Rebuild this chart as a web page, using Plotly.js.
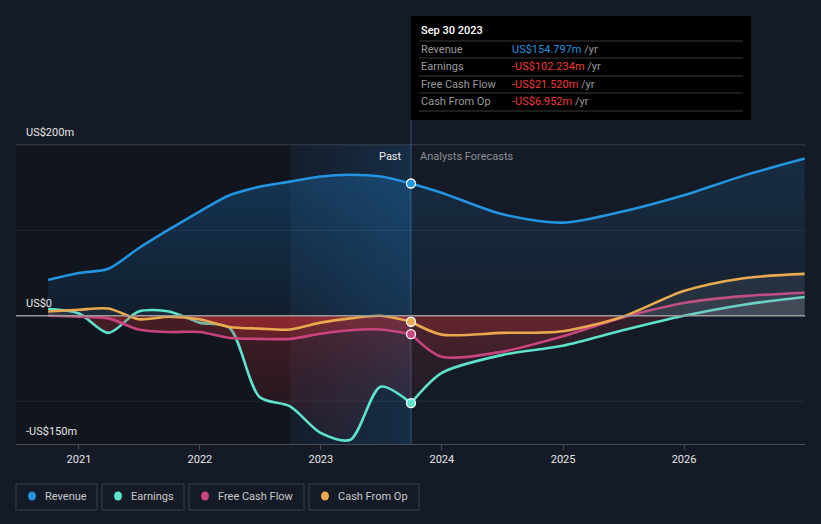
<!DOCTYPE html>
<html><head><meta charset="utf-8">
<script src="https://cdn.plot.ly/plotly-3.0.1.min.js"></script>
<style>html,body{margin:0;padding:0;background:#151b26;}#chart{width:821px;height:524px;}</style>
</head><body><div id="chart"></div>
<script>
// ---- data (US$ millions) ----
const pastDates = ['2020-09-30','2020-12-31','2021-03-31','2021-06-30','2021-09-30','2021-12-31','2022-03-31','2022-06-30','2022-09-30','2022-12-31','2023-03-31','2023-06-30','2023-09-30'];
const revenuePast  = [42, 50, 55, 79, 101, 122, 141, 151, 157, 163, 165, 163, 154.797];
const earningsPast = [8, 3, -20, 5, 5, -8, -14, -95, -106, -137, -145, -83, -102.234];
const fcfPast      = [0, -1, -3, -16, -19, -19, -26, -27, -27, -21, -17, -16, -21.52];
const cfoPast      = [5, 7, 8.5, -4, -1, -4, -13, -15, -16, -8, -3, 0, -6.952];

const forecastDates    = ['2023-09-30','2023-12-31','2024-06-30','2024-12-31','2025-06-30','2025-12-31','2026-06-30','2026-12-31'];
const revenueForecast  = [154.797, 144, 119, 109, 122, 141, 164, 184];
const earningsForecast = [-102.234, -67, -46, -35, -17, 0, 13, 22];
const fcfForecast      = [-21.52, -48, -42, -24, -2, 15, 23, 27];
const cfoForecast      = [-6.952, -22, -20, -18, -1, 29, 44, 49];

const seriesNames = ['Revenue', 'Earnings', 'Free Cash Flow', 'Cash From Op'];
const tickDates  = ['2021-01-01','2022-01-01','2023-01-01','2024-01-01','2025-01-01','2026-01-01'];
const tickLabels = ['2021','2022','2023','2024','2025','2026'];
const yTickVals  = [200, 0, -150];
const yTickText  = ['US$200m', 'US$0', '-US$150m'];
const tooltipDate = 'Sep 30 2023';

// ---- styling ----
const colors = ['#2394df', '#5de2cc', '#c8447f', '#e8a94f'];
const BG = '#151b26';
const yMin = -150, yMax = 201;
const xRange = ['2020-06-25', '2027-01-01'];
const bandStart = '2022-09-30';
const pastEnd = pastDates[pastDates.length - 1];

const L = 16, R = 16, T = 144, B = 80, W = 821, H = 524;
const PW = W - L - R, PH = H - T - B;
const px = v => (v - L) / PW;
const py = v => (T + PH - v) / PH;

const zpos = (0 - yMin) / (yMax - yMin);
function signGrad(negA, posA) {
  return {type: 'vertical', start: yMin, stop: yMax, colorscale: [
    [0, `rgba(150,35,45,${negA * 0.3})`],
    [zpos - 0.001, `rgba(215,50,55,${negA})`],
    [zpos + 0.001, `rgba(150,155,165,${posA})`],
    [1, `rgba(150,155,165,${posA})`]
  ]};
}
function revGrad(a0, a1) {
  return {type: 'vertical', start: 0, stop: 200, colorscale: [[0, `rgba(33,150,243,${a0})`], [1, `rgba(33,150,243,${a1})`]]};
}
const lineOpts = (c) => ({color: c, width: 2.6, shape: 'spline', smoothing: 0.8});

const traces = [];
// revenue
traces.push({x: pastDates, y: revenuePast, type: 'scatter', mode: 'lines', fill: 'tozeroy', fillgradient: revGrad(0.07, 0.28), line: lineOpts(colors[0]), hoverinfo: 'skip'});
traces.push({x: forecastDates, y: revenueForecast, type: 'scatter', mode: 'lines', fill: 'tozeroy', fillgradient: revGrad(0.04, 0.15), line: lineOpts(colors[0]), hoverinfo: 'skip'});
// other series
const pastSets = [earningsPast, fcfPast, cfoPast];
const foreSets = [earningsForecast, fcfForecast, cfoForecast];
for (let i = 0; i < 3; i++) {
  traces.push({x: pastDates, y: pastSets[i], type: 'scatter', mode: 'lines', fill: 'tozeroy', fillgradient: signGrad(0.28, 0.1), line: lineOpts(colors[i + 1]), hoverinfo: 'skip'});
  traces.push({x: forecastDates, y: foreSets[i], type: 'scatter', mode: 'lines', fill: 'tozeroy', fillgradient: signGrad(0.16, 0.13), line: lineOpts(colors[i + 1]), hoverinfo: 'skip'});
}
// end-of-past markers
const lastVals = [revenuePast, earningsPast, fcfPast, cfoPast].map(a => a[a.length - 1]);
traces.push({x: lastVals.map(() => pastEnd), y: lastVals, type: 'scatter', mode: 'markers',
  marker: {size: 9, color: colors, line: {color: '#ffffff', width: 1.3}}, hoverinfo: 'skip'});

// ---- shapes ----
const shapes = [];
// darker history region
shapes.push({type: 'rect', xref: 'x', yref: 'paper', x0: xRange[0], x1: bandStart, y0: 0, y1: 1, fillcolor: 'rgba(0,0,0,0.2)', line: {width: 0}, layer: 'below'});
// gradient band (last 12 months)
const t0 = new Date(bandStart).getTime(), t1 = new Date(pastEnd).getTime();
const N = 24;
for (let k = 0; k < N; k++) {
  const a = new Date(t0 + (t1 - t0) * k / N).toISOString().slice(0, 10);
  const b = new Date(t0 + (t1 - t0) * (k + 1) / N).toISOString().slice(0, 10);
  shapes.push({type: 'rect', xref: 'x', yref: 'paper', x0: a, x1: b, y0: 0, y1: 1,
    fillcolor: `rgba(33,140,230,${0.03 + 0.14 * (k + 0.5) / N})`, line: {width: 0}, layer: 'below'});
}
// grid lines
shapes.push({type: 'line', xref: 'paper', yref: 'y', x0: 0, x1: 1, y0: 200, y1: 200, line: {color: '#3c424c', width: 1}, layer: 'below'});
[100, -100].forEach(v => shapes.push({type: 'line', xref: 'paper', yref: 'y', x0: 0, x1: 1, y0: v, y1: v, line: {color: 'rgba(255,255,255,0.08)', width: 1}, layer: 'below'}));
// zero line
shapes.push({type: 'line', xref: 'paper', yref: 'y', x0: 0, x1: 1, y0: 0, y1: 0, line: {color: '#9a9a9a', width: 1.6}, layer: 'above'});
// past / forecast divider
shapes.push({type: 'line', xref: 'x', yref: 'paper', x0: pastEnd, x1: pastEnd, y0: 0, y1: py(120), line: {color: 'rgba(90,140,190,0.45)', width: 1}, layer: 'below'});
// tooltip box
shapes.push({type: 'rect', xref: 'paper', yref: 'paper', x0: px(411), x1: px(751), y0: py(120), y1: py(16), fillcolor: '#000000', line: {width: 0}, layer: 'above'});
[41, 58, 76, 93, 111].forEach(yy => shapes.push({type: 'line', xref: 'paper', yref: 'paper', x0: px(419), x1: px(743), y0: py(yy), y1: py(yy), line: {color: '#3a3a3a', width: 1}, layer: 'above'}));

// ---- annotations ----
const annotations = [];
const FONT = 'Roboto, "Noto Sans", sans-serif';
yTickVals.forEach((v, i) => annotations.push({xref: 'paper', yref: 'y', x: px(24), y: v, xanchor: 'left', yanchor: 'bottom', yshift: 4, text: yTickText[i], showarrow: false, font: {family: FONT, size: 11, color: '#e6e6e6'}}));
annotations.push({xref: 'x', yref: 'y', x: pastEnd, y: 200, xanchor: 'right', yanchor: 'top', xshift: -7, yshift: -3, text: 'Past', showarrow: false, font: {family: FONT, size: 11, color: '#eeeeee'}});
annotations.push({xref: 'x', yref: 'y', x: pastEnd, y: 200, xanchor: 'left', yanchor: 'top', xshift: 7, yshift: -3, text: 'Analysts Forecasts', showarrow: false, font: {family: FONT, size: 11, color: '#8c8f95'}});

// tooltip text
const fmt = v => (v < 0 ? '-' : '') + 'US$' + Math.abs(v).toFixed(3) + 'm';
annotations.push({xref: 'paper', yref: 'paper', x: px(419), y: py(31), xanchor: 'left', yanchor: 'middle', text: tooltipDate, showarrow: false, font: {family: FONT, size: 11, color: '#ffffff', weight: 500}});
const rowY = [49, 66, 84, 101];
seriesNames.forEach((n, i) => {
  annotations.push({xref: 'paper', yref: 'paper', x: px(419), y: py(rowY[i]), xanchor: 'left', yanchor: 'middle', text: n, showarrow: false, font: {family: FONT, size: 11, color: '#9a9a9a'}});
  const vc = i === 0 ? '#2394df' : '#ee3b3b';
  annotations.push({xref: 'paper', yref: 'paper', x: px(510), y: py(rowY[i]), xanchor: 'left', yanchor: 'middle',
    text: `<span style="color:${vc}">${fmt(lastVals[i])}</span><span style="color:#9a9a9a"> /yr</span>`, showarrow: false, font: {family: FONT, size: 11, color: '#9a9a9a'}});
});

// legend
const legBoxes = [[16, 97], [102, 184], [189, 304], [309, 419]];
legBoxes.forEach((bx, i) => {
  shapes.push({type: 'rect', xref: 'paper', yref: 'paper', x0: px(bx[0]), x1: px(bx[1]), y0: py(510), y1: py(484), fillcolor: 'rgba(0,0,0,0)', line: {color: '#3b404a', width: 1}, layer: 'above'});
  const cx = bx[0] + 16;
  shapes.push({type: 'circle', xref: 'paper', yref: 'paper', x0: px(cx - 4), x1: px(cx + 4), y0: py(500.5), y1: py(491.5), fillcolor: colors[i], line: {width: 0}, layer: 'above'});
  annotations.push({xref: 'paper', yref: 'paper', x: px(bx[0] + 27), y: py(496), xanchor: 'left', yanchor: 'middle', text: seriesNames[i], showarrow: false, font: {family: FONT, size: 11, color: '#c9c9c9'}});
});

const layout = {
  width: W, height: H,
  margin: {l: L, r: R, t: T, b: B, pad: 0},
  paper_bgcolor: BG, plot_bgcolor: BG,
  showlegend: false,
  font: {family: FONT, size: 11, color: '#dddddd'},
  xaxis: {type: 'date', range: xRange, tickvals: tickDates, ticktext: tickLabels, showgrid: false, zeroline: false,
    showline: true, linecolor: '#474c55', linewidth: 1, ticks: 'outside', ticklen: 5, tickcolor: '#474c55',
    tickfont: {family: FONT, size: 11, color: '#e6e6e6'}, fixedrange: true},
  yaxis: {range: [yMin, yMax], showgrid: false, zeroline: false, showticklabels: false, showline: false, fixedrange: true},
  shapes: shapes, annotations: annotations,
  hovermode: false
};
Plotly.newPlot('chart', traces, layout, {displayModeBar: false, staticPlot: true});
</script>
</body></html>
